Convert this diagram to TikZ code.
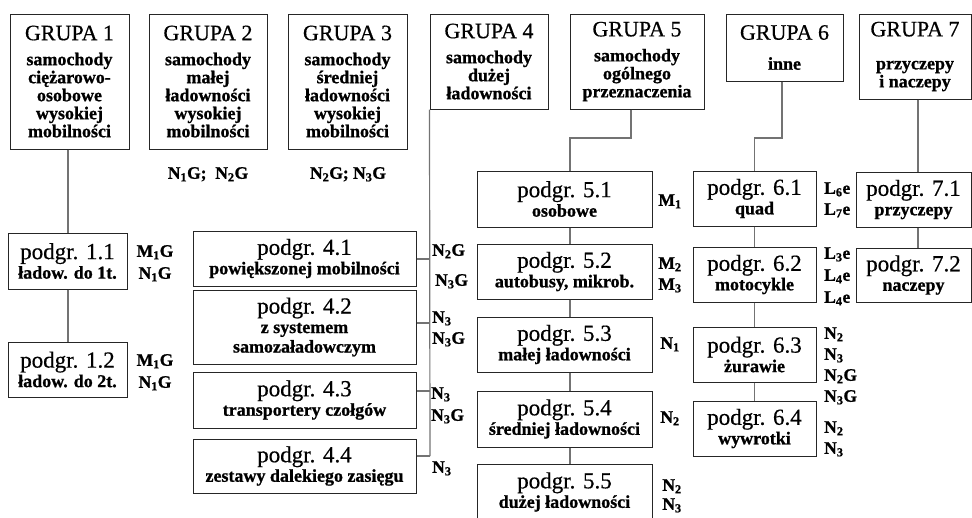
\documentclass[tikz,border=0pt]{standalone}
\usepackage{fontspec}
\setmainfont{Liberation Serif}[UprightFeatures={FakeBold=0.5}, BoldFeatures={FakeBold=1}]
\usetikzlibrary{calc}
\newcommand{\ix}[1]{\textsubscript{#1}}
\newcommand{\gtitle}[1]{{\fontsize{22}{22}\selectfont\mdseries #1}}
\newcommand{\pg}[1]{{\fontsize{23}{23}\selectfont\mdseries podgr. #1}}
\tikzset{
  box/.style={draw=black!85, line width=1pt, inner sep=0pt, align=center,
    font=\fontsize{18}{18}\selectfont\bfseries},
  sbox/.style={box, font=\fontsize{18}{19.5}\selectfont\bfseries},
  conn/.style={draw=black!55, line width=1.2pt},
  lab/.style={font=\fontsize{17.5}{17}\selectfont\bfseries, inner sep=0pt,
    text height=11.5pt, text depth=0pt},
}
\begin{document}
\begin{tikzpicture}[x=1pt, y=-1pt]
\useasboundingbox (0,0) rectangle (972,517);
% group boxes
\node[box, minimum width=119pt, minimum height=135pt] (g1) at (69.5,81.5)
  {\gtitle{GRUPA 1}\\[7pt] samochody\\ ciężarowo-\\ osobowe\\ wysokiej\\ mobilności};
\node[box, minimum width=118pt, minimum height=135pt] (g2) at (208,81.5)
  {\gtitle{GRUPA 2}\\[7pt] samochody\\ małej\\ ładowności\\ wysokiej\\ mobilności};
\node[box, minimum width=119pt, minimum height=135pt] (g3) at (347.5,81.5)
  {\gtitle{GRUPA 3}\\[7pt] samochody\\ średniej\\ ładowności\\ wysokiej\\ mobilności};
\node[box, minimum width=118pt, minimum height=95pt] (g4) at (489,61.5)
  {\gtitle{GRUPA 4}\\[7pt] samochody\\ dużej\\ ładowności};
\node[box, minimum width=134pt, minimum height=95pt] (g5) at (637,61.5)
  {\gtitle{GRUPA 5}\\[7pt] samochody\\ ogólnego\\ przeznaczenia};
\node[box, minimum width=117pt, minimum height=67pt] (g6) at (784.5,47.5)
  {\gtitle{GRUPA 6}\\[12pt] inne};
\node[box, minimum width=112pt, minimum height=85pt] (g7) at (915,56.5)
  {\gtitle{GRUPA 7}\\[15pt] przyczepy\\ i naczepy};
% labels under groups 2 and 3
\node[lab] (l2) at (208,173) {N\ix{1}G;\ \ N\ix{2}G};
\node[lab] (l3) at (348,173) {N\ix{2}G; N\ix{3}G};
% subgroup boxes
\node[sbox, minimum width=119pt, minimum height=56pt] (s11) at (67.5,261) {\pg{1.1}\\ ładow. do 1t.};
\node[sbox, minimum width=119pt, minimum height=55pt] (s12) at (67.5,369.5) {\pg{1.2}\\ ładow. do 2t.};
\node[sbox, minimum width=223pt, minimum height=55pt] (s41) at (304.5,258.5) {\pg{4.1}\\ powiększonej mobilności};
\node[sbox, minimum width=223pt, minimum height=74pt] (s42) at (304.5,327) {\pg{4.2}\\ z systemem\\ samozaładowczym};
\node[sbox, minimum width=223pt, minimum height=56pt] (s43) at (304.5,400) {\pg{4.3}\\ transportery czołgów};
\node[sbox, minimum width=223pt, minimum height=54pt] (s44) at (304.5,466) {\pg{4.4}\\ zestawy dalekiego zasięgu};
\node[sbox, minimum width=175pt, minimum height=56pt] (s51) at (564.5,199) {\pg{5.1}\\ osobowe};
\node[sbox, minimum width=175pt, minimum height=55pt] (s52) at (564.5,271.5) {\pg{5.2}\\ autobusy, mikrob.};
\node[sbox, minimum width=175pt, minimum height=55pt] (s53) at (564.5,344.5) {\pg{5.3}\\ małej ładowności};
\node[sbox, minimum width=175pt, minimum height=56pt] (s54) at (564.5,419) {\pg{5.4}\\ średniej ładowności};
\node[sbox, minimum width=175pt, minimum height=56pt] (s55) at (564.5,492) {\pg{5.5}\\ dużej ładowności};
\node[sbox, minimum width=123pt, minimum height=55pt] (s61) at (754.5,198.5) {\pg{6.1}\\ quad};
\node[sbox, minimum width=123pt, minimum height=55pt] (s62) at (754.5,274.5) {\pg{6.2}\\ motocykle};
\node[sbox, minimum width=123pt, minimum height=55pt] (s63) at (754.5,354.5) {\pg{6.3}\\ żurawie};
\node[sbox, minimum width=123pt, minimum height=55pt] (s64) at (754.5,428.5) {\pg{6.4}\\ wywrotki};
\node[sbox, minimum width=115pt, minimum height=55pt] (s71) at (913.5,199.5) {\pg{7.1}\\ przyczepy};
\node[sbox, minimum width=115pt, minimum height=54pt] (s72) at (913.5,275) {\pg{7.2}\\ naczepy};
% connectors
\coordinate (c1) at (68,0);
\draw[conn] (g1.south -| c1) -- (s11.north -| c1);
\draw[conn] (s11.south -| c1) -- (s12.north -| c1);
\coordinate (b41) at (430,259);
\coordinate (b42) at (430,323);
\coordinate (b43) at (430,391);
\coordinate (b44) at (430,456);
\draw[conn] (g4.south west) -- (b44);
\draw[conn] (s41.east |- b41) -- (b41);
\draw[conn] (s42.east |- b42) -- (b42);
\draw[conn] (s43.east |- b43) -- (b43);
\draw[conn] (s44.east |- b44) -- (b44);
\coordinate (c5) at (570,0);
\coordinate (k5) at (631,138);
\draw[conn] (g5.south -| k5) -- (k5) -| (s51.north -| c5);
\draw[conn] (s51.south -| c5) -- (s52.north -| c5);
\draw[conn] (s52.south -| c5) -- (s53.north -| c5);
\draw[conn] (s53.south -| c5) -- (s54.north -| c5);
\draw[conn] (s54.south -| c5) -- (s55.north -| c5);
\coordinate (k6) at (782,138);
\draw[conn] (g6.south -| k6) -- (k6) -| (s61.north);
\draw[conn] (s61.south) -- (s62.north);
\draw[conn] (s62.south) -- (s63.north);
\draw[conn] (s63.south) -- (s64.north);
\coordinate (c7) at (918,0);
\draw[conn] (g7.south -| c7) -- (s71.north -| c7);
\draw[conn] (s71.south -| c7) -- (s72.north -| c7);
% labels group 1
\node[lab] (l11a) at (155,251) {M\ix{1}G};
\node[lab] (l11b) at (155,273) {N\ix{1}G};
\node[lab] (l12a) at (155,360) {M\ix{1}G};
\node[lab] (l12b) at (155,382) {N\ix{1}G};
% labels group 4
\node[lab, anchor=west] (l41a) at (432,250) {N\ix{2}G};
\node[lab, anchor=west] (l41b) at (435,280) {N\ix{3}G};
\node[lab, anchor=west] (l42a) at (432,317) {N\ix{3}};
\node[lab, anchor=west] (l42b) at (432,338) {N\ix{3}G};
\node[lab, anchor=west] (l43a) at (431,393) {N\ix{3}};
\node[lab, anchor=west] (l43b) at (431,415) {N\ix{3}G};
\node[lab, anchor=west] (l44a) at (432,467) {N\ix{3}};
% labels group 5
\node[lab] (l51) at (670,200) {M\ix{1}};
\node[lab] (l52a) at (670,263) {M\ix{2}};
\node[lab] (l52b) at (670,284) {M\ix{3}};
\node[lab] (l53) at (670,343) {N\ix{1}};
\node[lab] (l54) at (670,417) {N\ix{2}};
\node[lab] (l55a) at (672,485) {N\ix{2}};
\node[lab] (l55b) at (672,504) {N\ix{3}};
% labels group 6
\node[lab, anchor=west] (l61a) at (824,188) {L\ix{6}e};
\node[lab, anchor=west] (l61b) at (824,209) {L\ix{7}e};
\node[lab, anchor=west] (l62a) at (824,253) {L\ix{3}e};
\node[lab, anchor=west] (l62b) at (824,275) {L\ix{4}e};
\node[lab, anchor=west] (l62c) at (824,297) {L\ix{4}e};
\node[lab, anchor=west] (l63a) at (824,333) {N\ix{2}};
\node[lab, anchor=west] (l63b) at (824,354) {N\ix{3}};
\node[lab, anchor=west] (l63c) at (824,375) {N\ix{2}G};
\node[lab, anchor=west] (l63d) at (824,396) {N\ix{3}G};
\node[lab, anchor=west] (l64a) at (824,427) {N\ix{2}};
\node[lab, anchor=west] (l64b) at (824,448) {N\ix{3}};
\end{tikzpicture}
\end{document}
